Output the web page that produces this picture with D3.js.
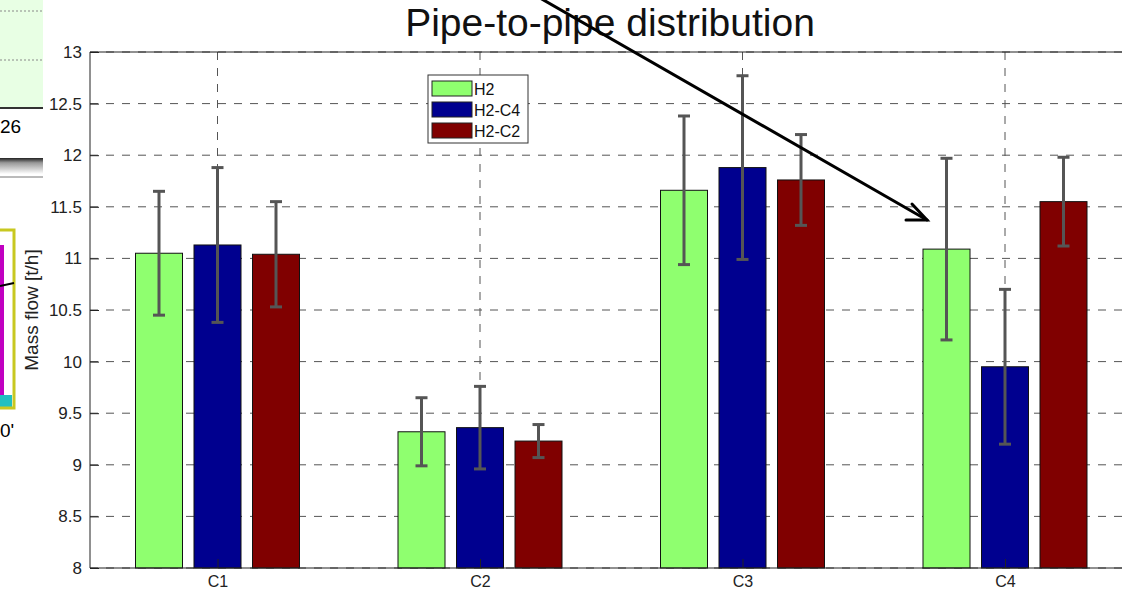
<!DOCTYPE html>
<html><head><meta charset="utf-8">
<script src="https://cdn.jsdelivr.net/npm/d3@7"></script>
<style>body{margin:0;background:#fff;overflow:hidden}svg{display:block;font-family:"Liberation Sans",Arial,sans-serif}</style>
</head><body>
<svg id="c" width="1122" height="595"></svg>
<script>
const categories = ["C1","C2","C3","C4"];
const seriesNames = ["H2","H2-C4","H2-C2"];
const seriesColors = ["#8FFF6F","#00008F","#800000"];
const valuesH2   = [11.05, 9.32, 11.66, 11.09];
const valuesH2C4 = [11.13, 9.36, 11.88, 9.95];
const valuesH2C2 = [11.04, 9.23, 11.76, 11.55];
const errH2   = [0.60, 0.33, 0.72, 0.88];
const errH2C4 = [0.75, 0.40, 0.89, 0.75];
const errH2C2 = [0.51, 0.16, 0.44, 0.43];
const yTicks = [8,8.5,9,9.5,10,10.5,11,11.5,12,12.5,13];
const title = "Pipe-to-pipe distribution";
const yLabel = "Mass flow [t/h]";

const svg = d3.select("#c");
const plotL = 90, plotT = 52, plotB = 568, plotR = 1140;

// --- fragment of another figure on the left edge (background decoration)
const frag = svg.append("g");
frag.append("rect").attr("x",0).attr("y",0).attr("width",43).attr("height",108).attr("fill","#E8FFE4");
[11,60].forEach(y=>frag.append("line").attr("x1",0).attr("x2",43).attr("y1",y).attr("y2",y).attr("stroke","#888").attr("stroke-dasharray","2,2"));
frag.append("line").attr("x1",0).attr("x2",43).attr("y1",108).attr("y2",108).attr("stroke","#333").attr("stroke-width",2);
frag.append("text").attr("x",0).attr("y",133).attr("font-size",19).text("26");
const grad = svg.append("defs").append("linearGradient").attr("id","gg").attr("x1",0).attr("y1",0).attr("x2",0).attr("y2",1);
grad.append("stop").attr("offset","0").attr("stop-color","#222");
grad.append("stop").attr("offset","0.3").attr("stop-color","#999");
grad.append("stop").attr("offset","1").attr("stop-color","#fff");
frag.append("rect").attr("x",0).attr("y",158).attr("width",43).attr("height",16).attr("fill","url(#gg)");
frag.append("line").attr("x1",0).attr("x2",43).attr("y1",177).attr("y2",177).attr("stroke","#777").attr("stroke-width",1);
frag.append("rect").attr("x",0).attr("y",245).attr("width",4).attr("height",160).attr("fill","#C000C0");
frag.append("rect").attr("x",0).attr("y",395).attr("width",12).attr("height",12).attr("fill","#20C0C0");
frag.append("rect").attr("x",-10).attr("y",230).attr("width",24).attr("height",178).attr("fill","none").attr("stroke","#C8C820").attr("stroke-width",3);
frag.append("line").attr("x1",0).attr("x2",14).attr("y1",286).attr("y2",283).attr("stroke","#000").attr("stroke-width",2);
frag.append("text").attr("x",0).attr("y",437).attr("font-size",19).text("0'");

// --- scales
const x = d3.scaleLinear().domain([1,4]).range([217.5,1005]);
const y = d3.scaleLinear().domain([8,13]).range([plotB,plotT]);
const barW = 47, barStep = 58.5;

// gridlines
const g = svg.append("g");
yTicks.forEach(t=>g.append("line").attr("x1",plotL).attr("x2",plotR).attr("y1",y(t)).attr("y2",y(t))
  .attr("stroke","#555").attr("stroke-width",1).attr("stroke-dasharray","8,8"));
categories.forEach((c,i)=>g.append("line").attr("x1",x(i+1)).attr("x2",x(i+1)).attr("y1",plotT).attr("y2",plotB)
  .attr("stroke","#555").attr("stroke-width",1).attr("stroke-dasharray","8,8"));

// bars
const series = [valuesH2, valuesH2C4, valuesH2C2];
const errs = [errH2, errH2C4, errH2C2];
series.forEach((vals,s)=>{
  const gs = svg.append("g");
  vals.forEach((v,i)=>{
    const cx = x(i+1) + (s-1)*barStep;
    gs.append("rect").attr("x",cx-barW/2).attr("y",y(v)).attr("width",barW).attr("height",plotB-y(v))
      .attr("fill",seriesColors[s]).attr("stroke","#111").attr("stroke-width",1);
  });
});
// error bars
series.forEach((vals,s)=>{
  const ge = svg.append("g").attr("stroke","#555").attr("stroke-width",3);
  vals.forEach((v,i)=>{
    const cx = x(i+1) + (s-1)*barStep, lo=y(v-errs[s][i]), hi=y(v+errs[s][i]);
    ge.append("line").attr("x1",cx).attr("x2",cx).attr("y1",lo).attr("y2",hi);
    ge.append("line").attr("x1",cx-6).attr("x2",cx+6).attr("y1",lo).attr("y2",lo);
    ge.append("line").attr("x1",cx-6).attr("x2",cx+6).attr("y1",hi).attr("y2",hi);
  });
});

// axes
const yAxis = d3.axisLeft(y).tickValues(yTicks).tickSize(-9).tickPadding(8).tickFormat(d3.format("~g"));
const ya = svg.append("g").attr("transform",`translate(${plotL},0)`).call(yAxis);
ya.select(".domain").remove();
ya.attr("font-size",17).attr("font-family","Liberation Sans, Arial");
ya.selectAll("text").attr("fill","#222");
ya.selectAll("line").attr("stroke","#222");
const xAxis = d3.axisBottom(x).tickValues([1,2,3,4]).tickSize(-9).tickPadding(8).tickFormat((d,i)=>categories[i]);
const xa = svg.append("g").attr("transform",`translate(0,${plotB})`).call(xAxis);
xa.select(".domain").remove();
xa.attr("font-size",16).attr("font-family","Liberation Sans, Arial");
xa.selectAll("text").attr("fill","#222").attr("font-size",16);
xa.selectAll("line").attr("stroke","#222");
svg.append("line").attr("x1",plotL).attr("x2",plotL).attr("y1",plotT).attr("y2",plotB).attr("stroke","#222");
svg.append("line").attr("x1",plotL).attr("x2",plotR).attr("y1",plotB).attr("y2",plotB).attr("stroke","#222");
svg.append("line").attr("x1",plotL).attr("x2",plotR).attr("y1",plotT).attr("y2",plotT).attr("stroke","#222");

// y label
svg.append("text").attr("transform","translate(38,310) rotate(-90)").attr("text-anchor","middle")
  .attr("font-size",19).attr("fill","#222").text(yLabel);

// legend
const lg = svg.append("g").attr("transform","translate(428,75)");
lg.append("rect").attr("width",100).attr("height",68).attr("fill","#fff").attr("stroke","#333");
seriesNames.forEach((n,i)=>{
  lg.append("rect").attr("x",4).attr("y",6+i*21).attr("width",40).attr("height",15)
    .attr("fill",seriesColors[i]).attr("stroke","#222");
  lg.append("text").attr("x",46).attr("y",20+i*21).attr("font-size",16).attr("fill","#111").text(n);
});

// title
svg.append("text").attr("x",610).attr("y",36).attr("text-anchor","middle").attr("font-size",39).attr("fill","#111").text(title);

// arrow annotation
const ar = svg.append("g").attr("stroke","#000").attr("stroke-width",3).attr("fill","none").attr("stroke-linecap","round");
ar.append("line").attr("x1",540).attr("y1",-2).attr("x2",927).attr("y2",220);
ar.append("polyline").attr("points","912,204 927,220 906,220");
</script>
</body></html>
